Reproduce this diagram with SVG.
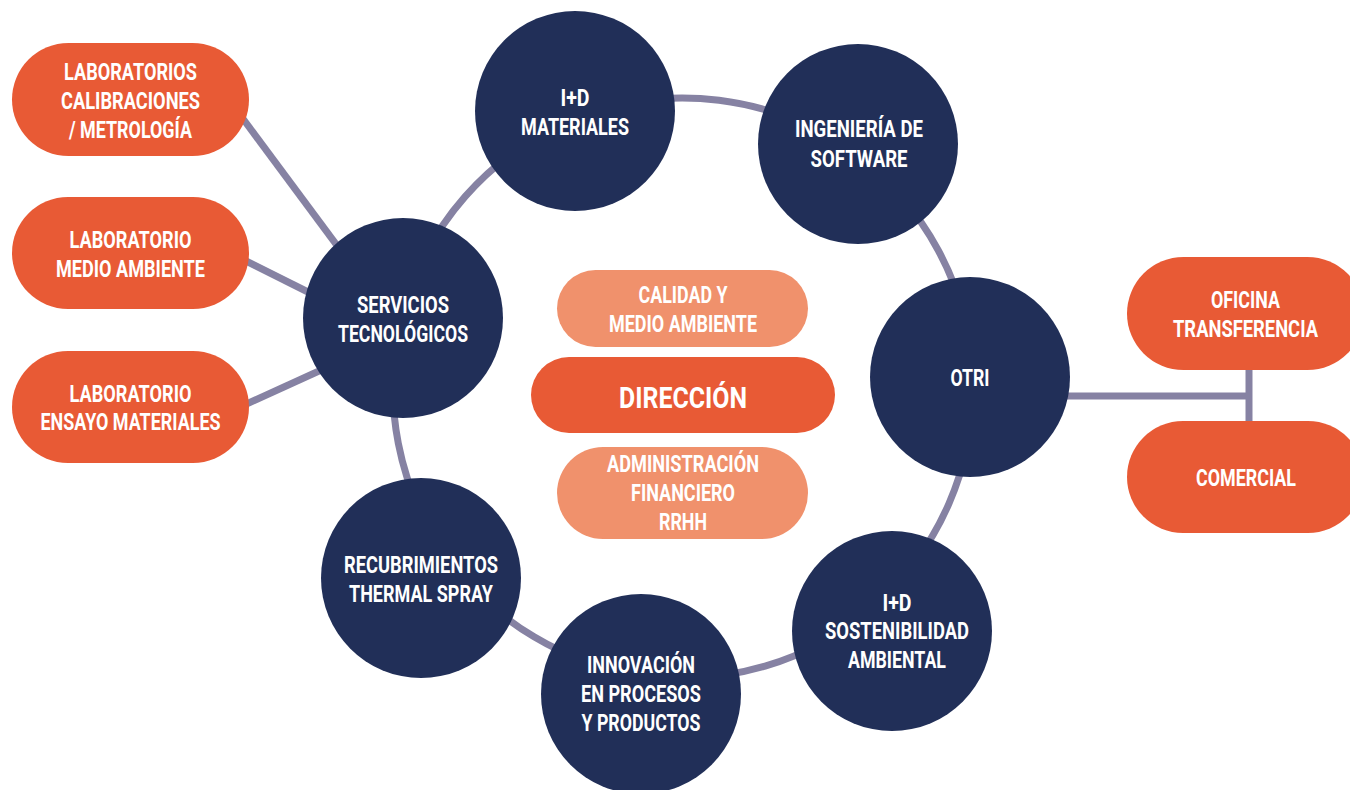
<svg xmlns="http://www.w3.org/2000/svg" width="1350" height="790" viewBox="0 0 1350 790">
<style>
.c{fill:#212f58}
.o{fill:#e85a35}
.l{fill:#f0916c}
.t{fill:#ffffff;font-family:Roboto,"Liberation Sans",sans-serif;font-weight:700;font-size:23px;text-anchor:middle}
.big{font-size:29px}
.k{fill:none;stroke:#8682a3;stroke-width:7}
</style>
<rect width="1350" height="790" fill="#ffffff"/>
<g id="connectors" class="k">
<path d="M401.6,317.8 A290,290 0 0 1 577.6,117.8"/>
<path d="M577.6,117.8 A290,290 0 0 1 851.8,152.2"/>
<path d="M851.8,152.2 A290,290 0 0 1 972.8,376.9"/>
<path d="M972.8,376.9 A290,290 0 0 1 872.1,607.8"/>
<path d="M872.1,607.8 A290,290 0 0 1 643.6,675.3"/>
<path d="M643.6,675.3 A290,290 0 0 1 448.4,558.5"/>
<path d="M448.4,558.5 A290,290 0 0 1 401.6,317.8"/>
<line x1="238" y1="112" x2="350" y2="263"/>
<line x1="240" y1="258" x2="330" y2="303"/>
<line x1="240" y1="407" x2="330" y2="366"/>
<line x1="1060" y1="396" x2="1249" y2="396"/>
<line x1="1249" y1="365" x2="1249" y2="426"/>
</g>
<g id="lab-calibraciones">
<rect class="o" x="12" y="43" width="237" height="113" rx="56.5"/>
<text class="t" x="130.5" y="80" textLength="133" lengthAdjust="spacingAndGlyphs">LABORATORIOS</text>
<text class="t" x="130.5" y="109" textLength="139" lengthAdjust="spacingAndGlyphs">CALIBRACIONES</text>
<text class="t" x="130.5" y="138" textLength="123" lengthAdjust="spacingAndGlyphs">/ METROLOGÍA</text>
</g>
<g id="lab-medio-ambiente">
<rect class="o" x="12" y="197" width="237" height="112" rx="56"/>
<text class="t" x="130.5" y="248" textLength="122" lengthAdjust="spacingAndGlyphs">LABORATORIO</text>
<text class="t" x="130.5" y="277" textLength="149" lengthAdjust="spacingAndGlyphs">MEDIO AMBIENTE</text>
</g>
<g id="lab-ensayo">
<rect class="o" x="12" y="351" width="237" height="112" rx="56"/>
<text class="t" x="130.5" y="402" textLength="122" lengthAdjust="spacingAndGlyphs">LABORATORIO</text>
<text class="t" x="130.5" y="430" textLength="180" lengthAdjust="spacingAndGlyphs">ENSAYO MATERIALES</text>
</g>
<g id="servicios">
<circle class="c" cx="403" cy="318" r="100"/>
<text class="t" x="403" y="313" textLength="92" lengthAdjust="spacingAndGlyphs">SERVICIOS</text>
<text class="t" x="403" y="342" textLength="130" lengthAdjust="spacingAndGlyphs">TECNOLÓGICOS</text>
</g>
<g id="id-materiales">
<circle class="c" cx="575" cy="111" r="100"/>
<text class="t" x="575" y="106" textLength="29" lengthAdjust="spacingAndGlyphs">I+D</text>
<text class="t" x="575" y="135" textLength="108" lengthAdjust="spacingAndGlyphs">MATERIALES</text>
</g>
<g id="ingenieria-software">
<circle class="c" cx="858" cy="144" r="100"/>
<text class="t" x="859" y="137" textLength="128" lengthAdjust="spacingAndGlyphs">INGENIERÍA DE</text>
<text class="t" x="859" y="167" textLength="97" lengthAdjust="spacingAndGlyphs">SOFTWARE</text>
</g>
<g id="otri">
<circle class="c" cx="970" cy="377" r="100"/>
<text class="t" x="970" y="386" textLength="39" lengthAdjust="spacingAndGlyphs">OTRI</text>
</g>
<g id="oficina-transferencia">
<rect class="o" x="1127" y="257" width="237" height="113" rx="56.5"/>
<text class="t" x="1245.5" y="308" textLength="69" lengthAdjust="spacingAndGlyphs">OFICINA</text>
<text class="t" x="1245.5" y="337" textLength="145" lengthAdjust="spacingAndGlyphs">TRANSFERENCIA</text>
</g>
<g id="comercial">
<rect class="o" x="1127" y="421" width="237" height="112" rx="56"/>
<text class="t" x="1246" y="486" textLength="100" lengthAdjust="spacingAndGlyphs">COMERCIAL</text>
</g>
<g id="id-sostenibilidad">
<circle class="c" cx="892" cy="631" r="100"/>
<text class="t" x="897" y="611" textLength="29" lengthAdjust="spacingAndGlyphs">I+D</text>
<text class="t" x="897" y="639" textLength="144" lengthAdjust="spacingAndGlyphs">SOSTENIBILIDAD</text>
<text class="t" x="897" y="668" textLength="98" lengthAdjust="spacingAndGlyphs">AMBIENTAL</text>
</g>
<g id="innovacion">
<circle class="c" cx="641" cy="694" r="100"/>
<text class="t" x="641" y="673" textLength="108" lengthAdjust="spacingAndGlyphs">INNOVACIÓN</text>
<text class="t" x="641" y="702" textLength="120" lengthAdjust="spacingAndGlyphs">EN PROCESOS</text>
<text class="t" x="641" y="731" textLength="119" lengthAdjust="spacingAndGlyphs">Y PRODUCTOS</text>
</g>
<g id="recubrimientos">
<circle class="c" cx="421" cy="578" r="100"/>
<text class="t" x="421" y="573" textLength="154" lengthAdjust="spacingAndGlyphs">RECUBRIMIENTOS</text>
<text class="t" x="421" y="602" textLength="144" lengthAdjust="spacingAndGlyphs">THERMAL SPRAY</text>
</g>
<g id="calidad">
<rect class="l" x="557" y="270" width="251" height="77" rx="38.5"/>
<text class="t" x="683" y="303" textLength="89" lengthAdjust="spacingAndGlyphs">CALIDAD Y</text>
<text class="t" x="683" y="332" textLength="148" lengthAdjust="spacingAndGlyphs">MEDIO AMBIENTE</text>
</g>
<g id="direccion">
<rect class="o" x="531" y="357" width="304" height="76" rx="38"/>
<text class="t big" x="683" y="408" textLength="128" lengthAdjust="spacingAndGlyphs">DIRECCIÓN</text>
</g>
<g id="administracion">
<rect class="l" x="557" y="447" width="251" height="92" rx="46"/>
<text class="t" x="683" y="472" textLength="152" lengthAdjust="spacingAndGlyphs">ADMINISTRACIÓN</text>
<text class="t" x="683" y="501" textLength="104" lengthAdjust="spacingAndGlyphs">FINANCIERO</text>
<text class="t" x="683" y="530" textLength="48" lengthAdjust="spacingAndGlyphs">RRHH</text>
</g>
</svg>
